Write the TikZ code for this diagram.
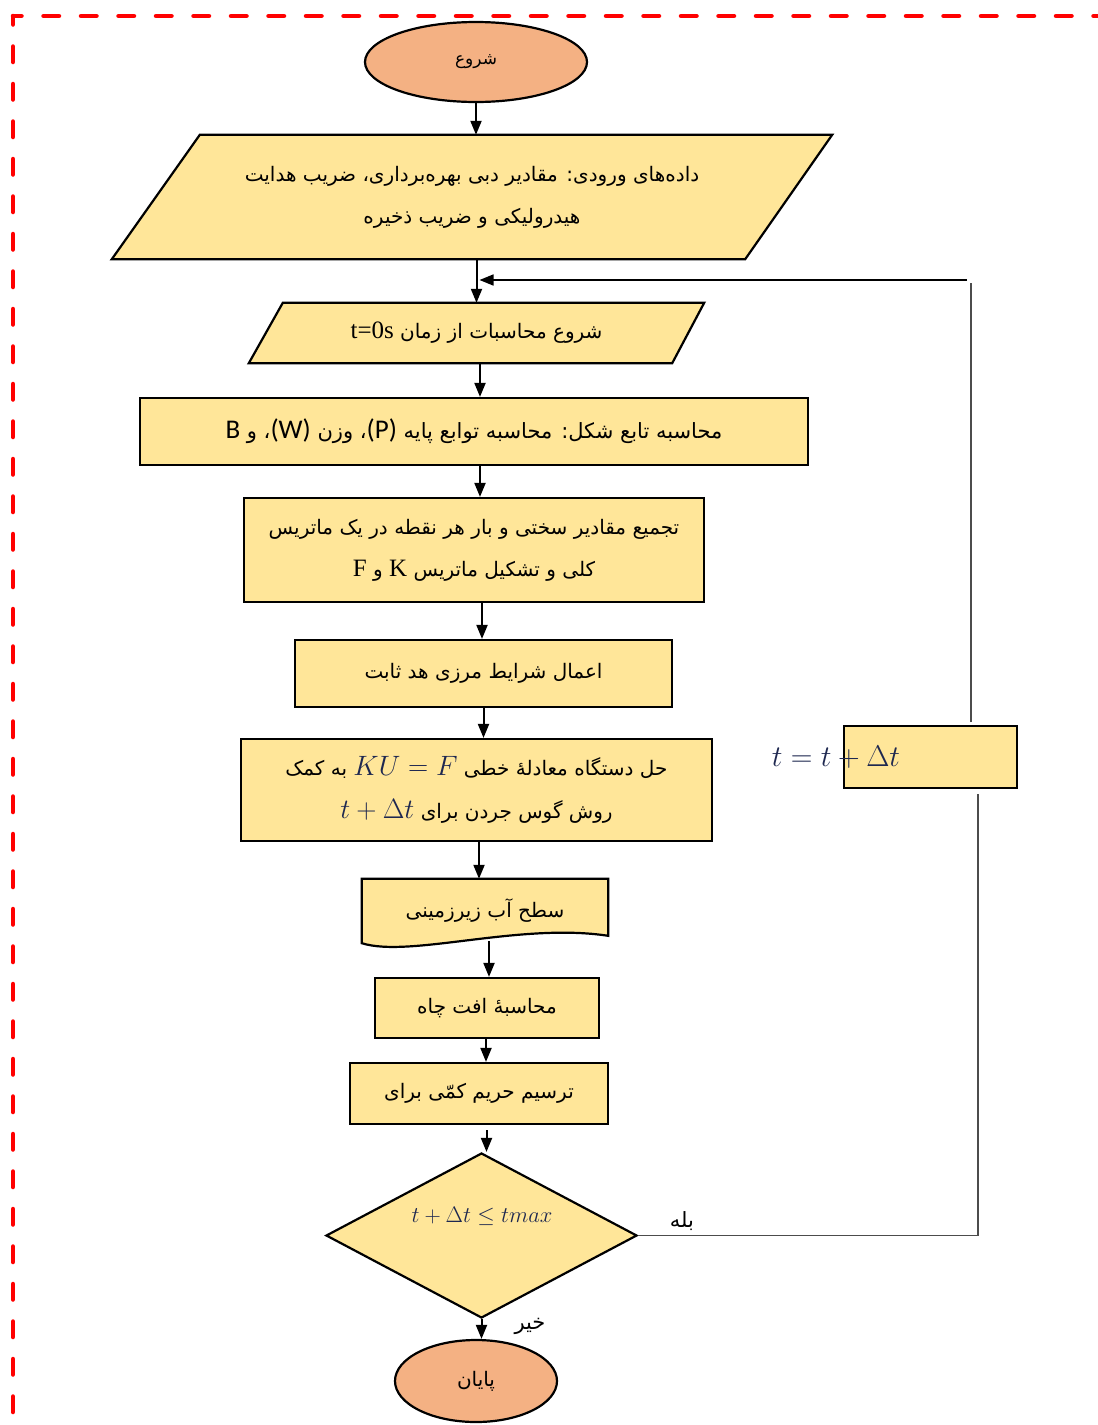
\RequirePackage{fix-cm}
\documentclass[tikz,border=0pt]{standalone}
\usepackage{fontspec}
\usetikzlibrary{shapes.geometric,arrows.meta,calc}
\TeXXeTstate=1
\newfontfamily\fa[Script=Arabic]{DejaVu Sans}
\newfontfamily\lserfam{Liberation Serif}
\newfontfamily\carlfam{Carlito}
\newcommand\lser[1]{{\lserfam\fontsize{25}{25}\selectfont #1}}
\newcommand\carl[1]{{\carlfam\fontsize{27}{27}\selectfont #1}}
\newcommand\RLtxt[1]{\beginR#1\endR}
\newcommand\mathbig[1]{{\color{mathc}\fontsize{28}{28}\selectfont$#1$}}
\definecolor{boxy}{HTML}{FFE699}
\definecolor{salm}{HTML}{F4B183}
\definecolor{mathc}{RGB}{30,40,80}
\pgfdeclarelayer{bg}
\pgfsetlayers{bg,main}
\tikzset{
  fatext/.style={font=\fa\fontsize{20}{42}\selectfont},
  box/.style={rectangle, draw=black, line width=2.2pt, fill=boxy, inner sep=0pt, align=center, fatext},
  ghost/.style={rectangle, inner sep=0pt, align=center, fatext},
  term/.style={ellipse, draw=black, line width=2.2pt, fill=salm, inner sep=0pt, font=\fa\fontsize{17}{20}\selectfont},
  decision/.style={diamond, draw=black, line width=2.2pt, fill=boxy, inner sep=0pt},
  shapeline/.style={draw=black, line width=2.2pt, fill=boxy, line join=miter},
  flow/.style={-{Triangle[width=11pt,length=14pt]}, line width=2pt},
  loopline/.style={line width=1.1pt, draw=black!70},
  lbl/.style={inner sep=0pt, font=\fa\fontsize{21}{24}\selectfont},
  mth/.style={inner sep=0pt, text=mathc, font=\fontsize{30}{30}\selectfont},
  border/.style={draw=red, line width=4.5pt, line cap=round, dash pattern=on 15.5pt off 22pt, dash phase=7pt},
}
\begin{document}
\begin{tikzpicture}[x=1pt,y=-1pt]
\useasboundingbox (0,0) rectangle (1098,1425);
% border
\draw[border] (13,16) -- (1120,16);
\draw[border] (13,16) -- (13,1450);
% terminals
\node[term, minimum width=222pt, minimum height=80pt] (start) at (476,62) {\RLtxt{شروع}};
\node[term, minimum width=162pt, minimum height=82pt, font=\fa\fontsize{20}{22}\selectfont] (end) at (476,1381) {\RLtxt{پایان}};
% parallelogram 1
\node[ghost, minimum width=720pt, minimum height=124pt] (p1) at (472,197)
  {\RLtxt{داده‌های ورودی\kern0pt: مقادیر دبی بهره‌برداری\kern0pt، ضریب هدایت}\\\RLtxt{هیدرولیکی و ضریب ذخیره}};
% parallelogram 2
\node[ghost, minimum width=455pt, minimum height=60pt] (p2) at (476.5,333)
  {\RLtxt{شروع محاسبات از زمان \beginL\lser{t=0s}\endL}};
% document shape
\node[ghost, minimum width=246pt, minimum height=64pt] (doc) at (485,911) {\RLtxt{سطح آب زیرزمینی}};
\begin{pgfonlayer}{bg}
\draw[shapeline] ($(p1.north west)+(88,0)$) -- (p1.north east) -- ($(p1.south east)+(-87,0)$) -- (p1.south west) -- cycle;
\draw[shapeline] ($(p2.north west)+(34,0)$) -- (p2.north east) -- ($(p2.south east)+(-32,0)$) -- (p2.south west) -- cycle;
\draw[shapeline] (doc.north west) -- (doc.north east) -- ($(doc.north east)+(0,57)$)
  .. controls ($(doc.south west)+(158,-21)$) and ($(doc.south west)+(48,15)$) .. (doc.south west) -- cycle;
\end{pgfonlayer}
% process boxes
\node[box, minimum width=668pt, minimum height=67pt, font=\fa\fontsize{21}{42}\selectfont] (r3) at (474,431.5)
  {\RLtxt{محاسبه تابع شکل\kern0pt: محاسبه توابع پایه \beginL\carl{(P)}\endL\kern0pt، وزن \beginL\carl{(W)}\endL\kern0pt، و \carl{B}}};
\node[box, minimum width=460pt, minimum height=104pt] (r4) at (474,550)
  {\RLtxt{تجمیع مقادیر سختی و بار هر نقطه در یک ماتریس}\\\RLtxt{کلی و تشکیل ماتریس \lser{K} و \lser{F}}};
\node[box, minimum width=377pt, minimum height=67pt] (r5) at (483.5,673.5) {\RLtxt{اعمال شرایط مرزی هد ثابت}};
\node[box, minimum width=471pt, minimum height=102pt] (r6) at (476.5,790)
  {\RLtxt{حل دستگاه معادلهٔ خطی \beginL\mathbig{KU=F}\endL\ به کمک}\\[1pt]\RLtxt{روش گوس جردن برای \beginL\mathbig{t+\Delta t}\endL}};
\node[box, minimum width=224pt, minimum height=60pt] (r7) at (487,1008) {\RLtxt{محاسبهٔ افت چاه}};
\node[box, minimum width=258pt, minimum height=61pt] (r8) at (479,1093.5) {\RLtxt{ترسیم حریم کمّی برای}};
\node[box, minimum width=173pt, minimum height=62pt] (inc) at (930.5,757) {};
\node[mth] (inctxt) at (836,757) {$t=t+\Delta t$};
% decision
\node[decision, minimum width=311pt, minimum height=165pt] (dia) at (481.5,1235.5) {};
\node[mth, font=\fontsize{22.5}{24}\selectfont] (cond) at (482,1216) {$t+\Delta t\leq tmax$};
\node[lbl] (yes) at (682,1221) {\RLtxt{بله}};
\node[lbl] (no) at (530,1326) {\RLtxt{خیر}};
% main flow
\draw[flow] (start.south) -- (start.south |- p1.north);
\draw[flow] (p2.north |- p1.south) -- (p2.north);
\draw[flow] ($(p2.south)+(3.5,0)$) -- ($(p2.south |- r3.north)+(3.5,0)$);
\draw[flow] ($(r3.south)+(6,0)$) -- ($(r3.south |- r4.north)+(6,0)$);
\draw[flow] ($(r5.north |- r4.south)+(-1.5,0)$) -- ($(r5.north)+(-1.5,0)$);
\draw[flow] (r5.south) -- (r5.south |- r6.north);
\draw[flow] ($(r6.south)+(2.5,0)$) -- ($(r6.south |- doc.north)+(2.5,0)$);
\draw[flow] ($(doc.south)+(4,-2)$) -- ($(doc.south |- r7.north)+(4,0)$);
\draw[flow] ($(r7.south)+(-1,0)$) -- ($(r7.south |- r8.north)+(-1,0)$);
\draw[flow] ($(dia.north |- r8.south)+(5,5)$) -- ($(dia.north)+(5,0)$);
\draw[flow] (dia.south) -- (dia.south |- end.north);
% loop back
\coordinate (lr) at (978,1235.5);
\coordinate (lt) at (978,794);
\coordinate (ub) at (971,722);
\coordinate (ut) at (971,283);
\coordinate (hs) at (967,280);
\draw[loopline] (dia.east) -- (lr) -- (lt);
\draw[loopline] (ub) -- (ut);
\draw[flow, line width=1.6pt] (hs) -- ($(p2.north |- hs)+(3,0)$);
\end{tikzpicture}
\end{document}
